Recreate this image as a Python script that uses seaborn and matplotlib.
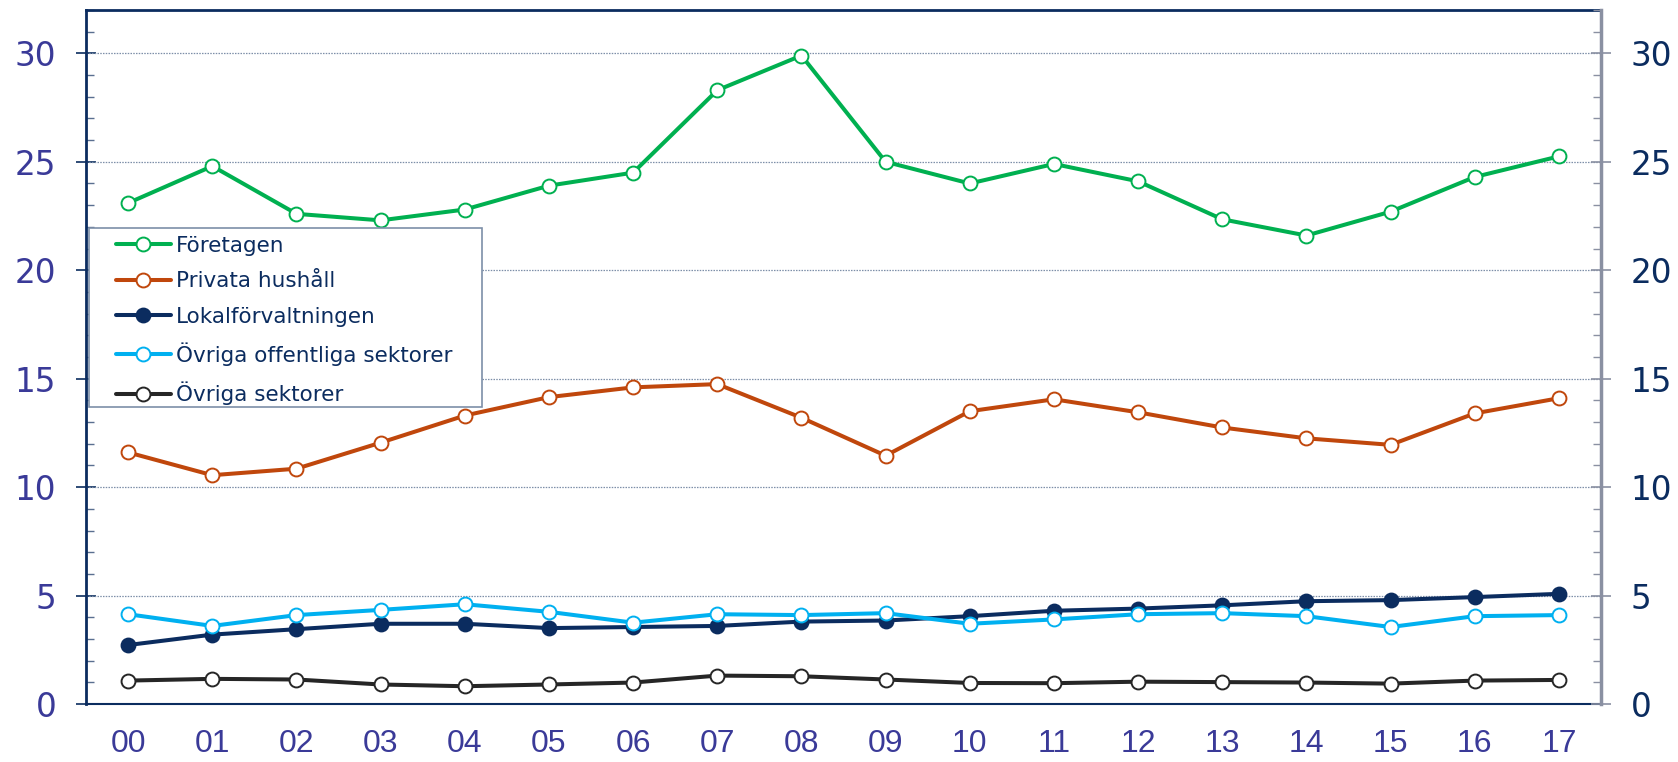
import pandas as pd
import matplotlib.pyplot as plt
import seaborn as sns
from matplotlib.ticker import MultipleLocator, FixedLocator
from matplotlib.patches import Rectangle

# Data (andel, procent)
years = ['00', '01', '02', '03', '04', '05', '06', '07', '08',
         '09', '10', '11', '12', '13', '14', '15', '16', '17']
foretagen = [23.1, 24.8, 22.6, 22.3, 22.8, 23.9, 24.5, 28.3, 29.9,
             25.0, 24.0, 24.9, 24.1, 22.35, 21.6, 22.7, 24.3, 25.25]
privata = [11.6, 10.55, 10.85, 12.05, 13.3, 14.15, 14.6, 14.75, 13.2,
           11.45, 13.5, 14.05, 13.45, 12.75, 12.25, 11.95, 13.4, 14.1]
lokal = [2.72, 3.2, 3.45, 3.7, 3.7, 3.5, 3.55, 3.6, 3.8,
         3.85, 4.05, 4.3, 4.4, 4.55, 4.74, 4.79, 4.93, 5.08]
ovr_offentliga = [4.14, 3.6, 4.1, 4.34, 4.6, 4.25, 3.75, 4.14, 4.1,
                  4.19, 3.7, 3.9, 4.14, 4.19, 4.05, 3.55, 4.05, 4.1]
ovr_sektorer = [1.08, 1.16, 1.13, 0.9, 0.82, 0.9, 0.99, 1.31, 1.28,
                1.13, 0.97, 0.96, 1.03, 1.01, 0.99, 0.94, 1.08, 1.11]

series_names = ['Företagen', 'Privata hushåll', 'Lokalförvaltningen',
                'Övriga offentliga sektorer', 'Övriga sektorer']
series_values = [foretagen, privata, lokal, ovr_offentliga, ovr_sektorer]
series_colors = ['#00b050', '#c0470c', '#0b2c5f', '#00b0f0', '#262626']
series_faces = ['white', 'white', '#0b2c5f', 'white', 'white']

rows = []
for name, vals in zip(series_names, series_values):
    for i, v in enumerate(vals):
        rows.append({'serie': name, 'x': i, 'varde': v})
df = pd.DataFrame(rows)

sns.set_style('white')
plt.rcParams['font.family'] = ['DejaVu Sans']

navy = '#0b2c5f'
indigo = '#3a3a98'

fig = plt.figure(figsize=(16.78, 7.62), dpi=100)
ax = fig.add_axes([0.0513, 0.0761, 0.9028, 0.9108])

for name, col, face in zip(series_names, series_colors, series_faces):
    sns.lineplot(data=df[df['serie'] == name], x='x', y='varde', ax=ax,
                 color=col, lw=2.9, marker='o', markersize=10,
                 markerfacecolor=face, markeredgecolor=col,
                 markeredgewidth=1.4, label=name, zorder=3)

ax.set_xlim(-0.5, len(years) - 0.5)
ax.set_ylim(0, 32)
ax.set_xlabel('')
ax.set_ylabel('')

# gridlines
for g in range(5, 31, 5):
    ax.axhline(g, color='#7d8fa8', lw=0.9, ls=(0, (1.2, 1.0)), zorder=1)

# x ticks: labels at centres, marks at boundaries
ax.xaxis.set_major_locator(FixedLocator(range(len(years))))
ax.set_xticklabels(years, fontsize=23, color=indigo,
                   family=['Liberation Sans Narrow', 'Liberation Sans'])
ax.tick_params(axis='x', which='major', length=0, pad=18)
ax.xaxis.set_minor_locator(FixedLocator([i - 0.5 for i in range(len(years) + 1)]))
ax.tick_params(axis='x', which='minor', direction='inout', length=14,
               width=1.3, color=navy)

ax.yaxis.set_major_locator(MultipleLocator(5))
ax.yaxis.set_minor_locator(MultipleLocator(1))
ax.tick_params(axis='y', which='major', direction='inout', length=15,
               width=1.2, color=navy, labelsize=23.5, labelcolor=indigo, pad=14)
ax.tick_params(axis='y', which='minor', direction='in', length=6,
               width=1.0, color='#5a6f90')

for s in ['left', 'top', 'bottom']:
    ax.spines[s].set_color(navy)
ax.spines['left'].set_linewidth(2)
ax.spines['top'].set_linewidth(2)
ax.spines['bottom'].set_linewidth(1.5)
ax.spines['right'].set_visible(False)

# right axis
ax2 = ax.twinx()
ax2.set_ylim(0, 32)
ax2.yaxis.set_major_locator(MultipleLocator(5))
ax2.yaxis.set_minor_locator(MultipleLocator(1))
ax2.tick_params(axis='y', which='major', direction='inout', length=15,
                width=1.2, color='#8a90a2', labelsize=23.5, labelcolor=navy, pad=14)
ax2.tick_params(axis='y', which='minor', direction='in', length=6,
                width=1.0, color='#8a90a2')
for s in ['left', 'top', 'bottom']:
    ax2.spines[s].set_visible(False)
ax2.spines['right'].set_color('#8a90a2')
ax2.spines['right'].set_linewidth(2.5)

# legend box drawn separately so padding can differ horizontally/vertically
box = Rectangle((0.002, 0.428), 0.2594, 0.258, transform=ax.transAxes,
                facecolor='white', edgecolor='#7d8fa8', lw=1.2, zorder=4)
ax.add_patch(box)
leg = ax.legend(loc='upper left', bbox_to_anchor=(0.0195, 0.6745),
                fontsize=15.5, frameon=False, borderpad=0,
                labelspacing=0.72, handlelength=2.55, handletextpad=0.25,
                borderaxespad=0)
for t in leg.get_texts():
    t.set_color(navy)
leg.set_zorder(5)

fig.savefig('out.png', dpi=100)
